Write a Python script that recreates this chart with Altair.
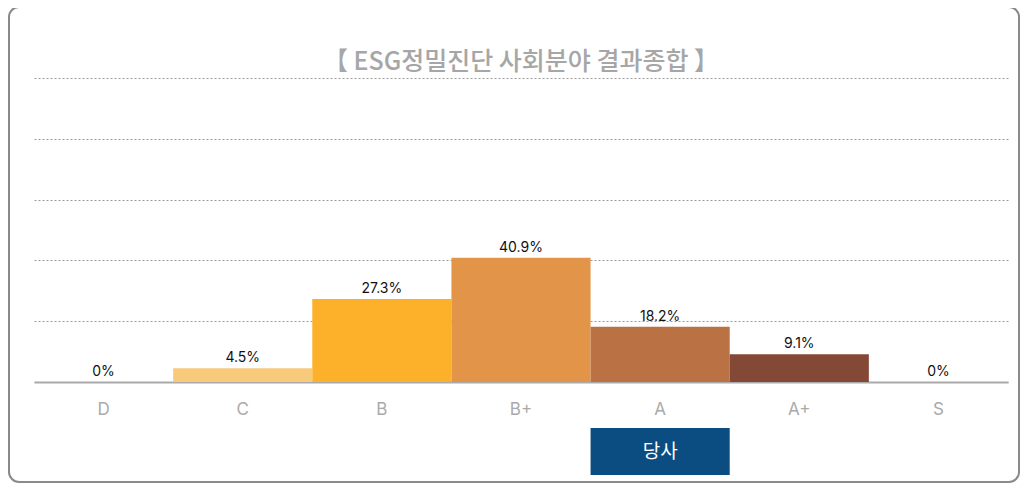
import altair as alt
import pandas as pd

grades = ["D", "C", "B", "B+", "A", "A+", "S"]
shares = [0, 4.5, 27.3, 40.9, 18.2, 9.1, 0]
share_labels = ["0%", "4.5%", "27.3%", "40.9%", "18.2%", "9.1%", "0%"]
bar_colors = ["#F8CB7C", "#F8CB7C", "#FDB12B", "#E29449", "#BA7244", "#844836", "#844836"]
company_grade = ["A"]
company_label = ["당사"]
title_text = ["【 ESG정밀진단 사회분야 결과종합 】"]
grid_values = [0, 20, 40, 60, 80, 100]

df = pd.DataFrame({"grade": grades, "share": shares, "label": share_labels})
cdf = pd.DataFrame({"grade": company_grade, "label": company_label})
bdf = pd.DataFrame({"a": [0]})
tdf = pd.DataFrame({"t": title_text})

xscale = alt.Scale(domain=grades, paddingInner=0, paddingOuter=0)
yscale = alt.Scale(domain=[0, 100], nice=False)

border = alt.Chart(bdf).mark_rect(
    fillOpacity=0, stroke="#8a8a8a", strokeWidth=2, cornerRadius=10
).encode(
    x=alt.value(-25), x2=alt.value(985), y=alt.value(-71), y2=alt.value(404)
)

title = alt.Chart(tdf).mark_text(
    fontSize=25, font="Noto Sans CJK KR", fontWeight=500, color="#a6a6a6",
    baseline="middle", align="center"
).encode(x=alt.value(487), y=alt.value(-16), text="t:N")

bars = alt.Chart(df).mark_bar(width={"band": 1}).encode(
    x=alt.X("grade:N", scale=xscale, sort=grades,
            axis=alt.Axis(title=None, labelAngle=0, labelFontSize=17, labelColor="#aaaaaa",
                          labelFont="Inter", ticks=False, tickSize=0, labelPadding=19,
                          domainColor="#aaaaaa", domainWidth=2)),
    y=alt.Y("share:Q", scale=yscale,
            axis=alt.Axis(title=None, labels=False, ticks=False, domain=False,
                          values=grid_values, gridDash=[2, 2], gridColor="#9a9a9a",
                          gridWidth=1)),
    color=alt.Color("grade:N", scale=alt.Scale(domain=grades, range=bar_colors), legend=None),
)

texts = alt.Chart(df).mark_text(
    baseline="bottom", dy=-3, fontSize=14, font="Inter", color="#111111"
).encode(
    x=alt.X("grade:N", scale=xscale, sort=grades),
    y=alt.Y("share:Q", scale=yscale),
    text="label:N",
)

cbox = alt.Chart(cdf).mark_rect(color="#0B4D80").encode(
    x=alt.X("grade:N", scale=xscale, sort=grades),
    y=alt.value(350), y2=alt.value(397),
)

ctext = alt.Chart(cdf).mark_text(
    fontSize=19, font="Noto Sans CJK KR", color="white", baseline="middle"
).encode(
    x=alt.X("grade:N", scale=xscale, sort=grades),
    y=alt.value(374),
    text="label:N",
)

chart = alt.layer(border, title, bars, texts, cbox, ctext).properties(
    width=974, height=304,
    padding={"left": 26, "top": 70, "right": 12, "bottom": 101},
    autosize=alt.AutoSizeParams(type="none"),
).configure_view(stroke=None)

chart.save("out.html", embed_options={"renderer": "svg", "actions": False})
